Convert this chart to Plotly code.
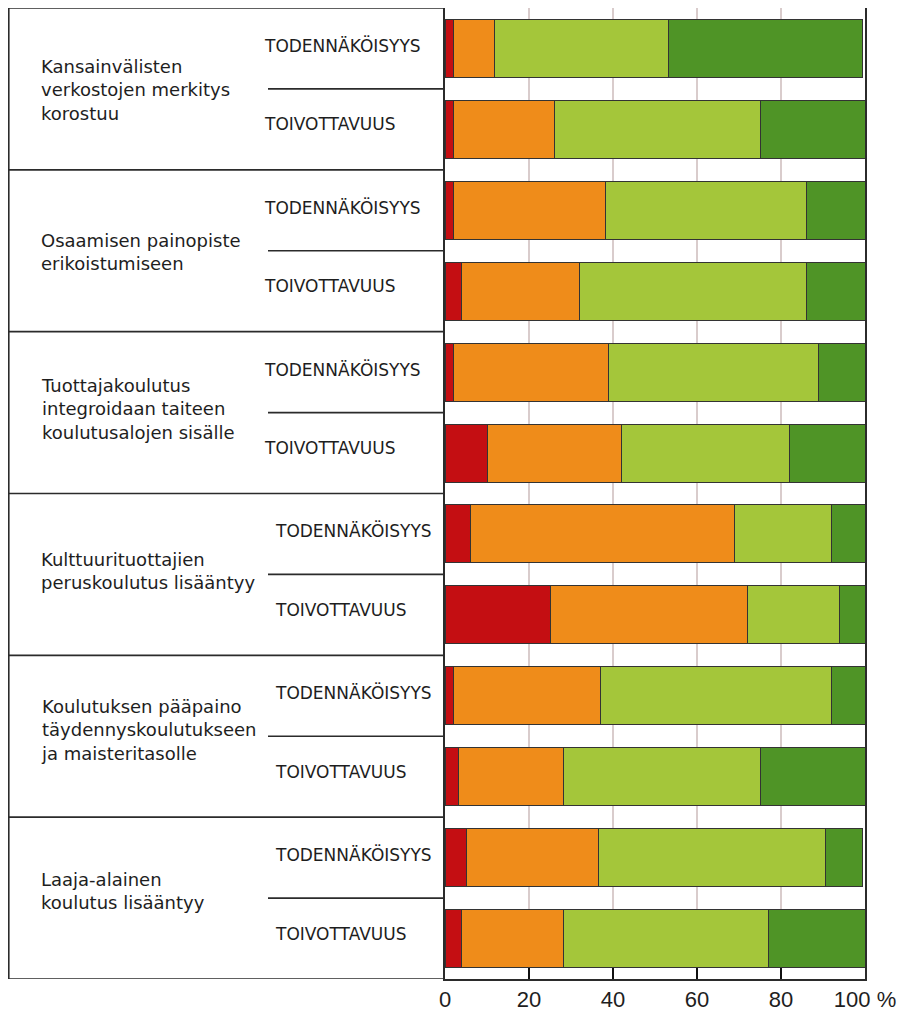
import plotly.graph_objects as go

# ---------------- data ----------------
groups = [
    "Kansainvälisten<br>verkostojen merkitys<br>korostuu",
    "Osaamisen painopiste<br>erikoistumiseen",
    "Tuottajakoulutus<br>integroidaan taiteen<br>koulutusalojen sisälle",
    "Kulttuurituottajien<br>peruskoulutus lisääntyy",
    "Koulutuksen pääpaino<br>täydennyskoulutukseen<br>ja maisteritasolle",
    "Laaja-alainen<br>koulutus lisääntyy",
]
subtypes = ["TODENNÄKÖISYYS", "TOIVOTTAVUUS"]

# one value per bar, order: group1 TOD, group1 TOIV, group2 TOD, ...
red = [2.1, 2.1, 2.1, 4.0, 2.1, 10.1, 6.1, 25.1, 2.1, 3.1, 5.1, 4.0]
orange = [9.8, 24.0, 36.0, 28.1, 36.9, 32.0, 62.9, 46.9, 35.0, 25.0, 31.5, 24.1]
light_green = [41.4, 48.9, 47.9, 53.9, 50.0, 40.0, 23.0, 22.0, 54.9, 46.9, 54.1, 49.0]
dark_green = [46.2, 25.0, 14.0, 14.0, 11.0, 17.9, 8.0, 6.0, 8.0, 25.0, 8.8, 22.9]

tick_vals = [0, 20, 40, 60, 80, 100]
tick_text = ["0", "20", "40", "60", "80", "100 %"]

# ---------------- styling / layout helpers ----------------
group_label_nudge = [-1, -1, 4, 3, 6, 7]  # px, small vertical nudges of group labels

cats = [f"{g.replace('<br>', ' ')} – {s}" for g in groups for s in subtypes]

series = [
    ("red", red, "#c40e12"),
    ("orange", orange, "#ef8c1a"),
    ("light green", light_green, "#a4c63a"),
    ("dark green", dark_green, "#4f9426"),
]

fig = go.Figure()
for name, vals, col in series:
    fig.add_trace(go.Bar(
        y=cats, x=vals, orientation="h", name=name,
        marker=dict(color=col, line=dict(color="#333333", width=1)),
        showlegend=False, hoverinfo="x+y",
    ))

# page body adds an 8px offset; figure is sized to fit the window
OFF = 8
W, H = 906 - OFF, 1014 - OFF
ml, mr, mt, mb = 445 - OFF, 41, 7 - OFF + 1, 1014 - 979
pw = W - ml - mr


def px_to_paper(px):
    # px measured in window coordinates
    return (px - OFF - ml) / pw


table_left = px_to_paper(8.8)
sub_left = px_to_paper(268)
line_style = dict(color="#2b2b2b", width=1.6)

shapes = []
n = len(cats)
# outer table frame
shapes.append(dict(type="line", xref="paper", yref="y", x0=table_left, x1=0,
                   y0=-0.5, y1=-0.5, line=line_style))
shapes.append(dict(type="line", xref="paper", yref="y", x0=table_left, x1=0,
                   y0=n - 0.5, y1=n - 0.5, line=line_style))
shapes.append(dict(type="line", xref="paper", yref="y", x0=table_left, x1=table_left,
                   y0=-0.5, y1=n - 0.5, line=line_style))
for gi in range(len(groups)):
    if gi > 0:
        yb = gi * 2 - 0.5
        shapes.append(dict(type="line", xref="paper", yref="y", x0=table_left, x1=0,
                           y0=yb, y1=yb, line=line_style))
    ym = gi * 2 + 0.5
    shapes.append(dict(type="line", xref="paper", yref="y", x0=sub_left, x1=0,
                       y0=ym, y1=ym, line=line_style))

annotations = []
text_col = "#1e1e1e"
for gi, g in enumerate(groups):
    annotations.append(dict(
        xref="paper", yref="y", x=px_to_paper(39), y=gi * 2 + 0.5,
        text=g, showarrow=False, xanchor="left", yanchor="middle", align="left",
        font=dict(family="DejaVu Sans", size=18, color=text_col),
        yshift=group_label_nudge[gi],
    ))
    sub_x = px_to_paper(262) if gi < 3 else px_to_paper(273)
    for si, s in enumerate(subtypes):
        annotations.append(dict(
            xref="paper", yref="y", x=sub_x, y=cats[gi * 2 + si],
            text=s, showarrow=False, xanchor="left", yanchor="middle",
            font=dict(family="DejaVu Sans", size=17, color=text_col),
            yshift=3 if si == 0 else 5,
        ))

fig.update_layout(
    width=W, height=H,
    margin=dict(l=ml, r=mr, t=mt, b=mb, autoexpand=False),
    barmode="stack", bargap=0.284,
    plot_bgcolor="white", paper_bgcolor="white",
    shapes=shapes, annotations=annotations,
    xaxis=dict(
        range=[0, 100], tickvals=tick_vals, ticktext=tick_text,
        showgrid=True, gridcolor="#d9cccc", gridwidth=1.6,
        showline=True, linecolor="#2b2b2b", linewidth=1.6, mirror=True,
        ticks="inside", ticklen=11, tickwidth=1.6, tickcolor="#111111",
        ticklabelstandoff=0, automargin=False,
        tickfont=dict(family="Liberation Sans", size=22, color="#1e1e1e"),
        zeroline=False, fixedrange=True,
    ),
    yaxis=dict(
        categoryorder="array", categoryarray=cats,
        range=[n - 0.5, -0.5], showticklabels=False, ticks="",
        showline=True, linecolor="#2b2b2b", linewidth=1.6, mirror=True,
        showgrid=False, zeroline=False, fixedrange=True, automargin=False,
    ),
)

fig.write_html("out.html")
